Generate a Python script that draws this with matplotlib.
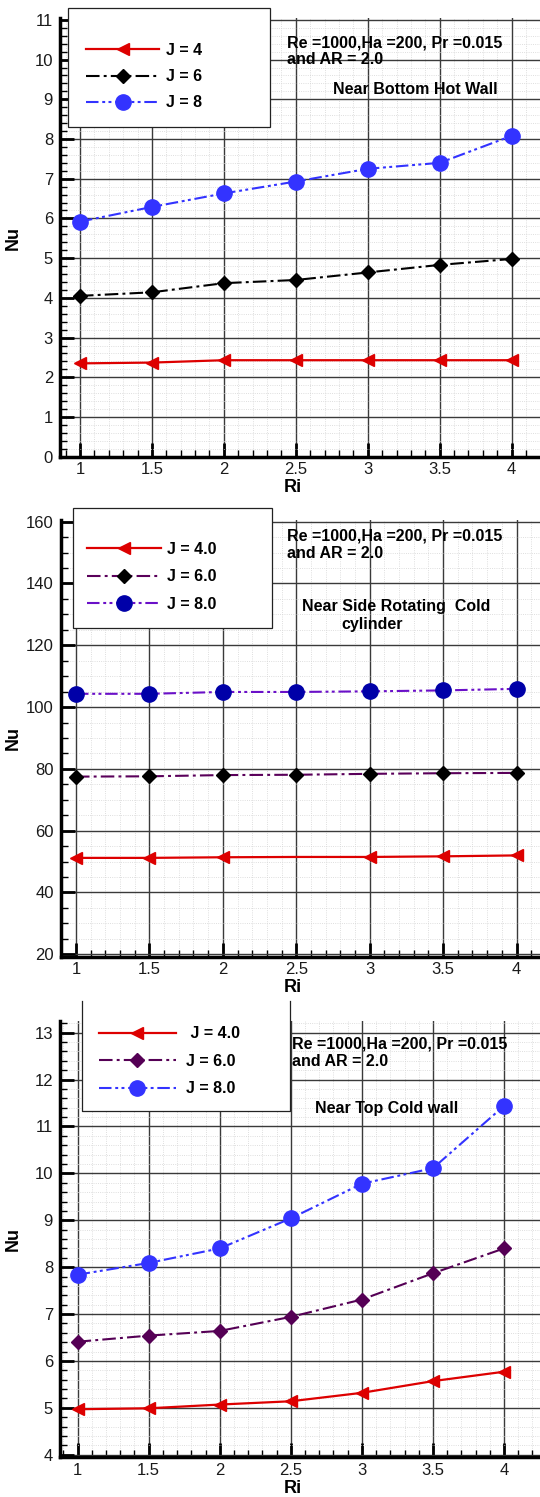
import matplotlib
matplotlib.use('Agg')
import matplotlib.pyplot as plt
from matplotlib.ticker import MultipleLocator
from matplotlib.patches import Rectangle
from matplotlib.lines import Line2D

plt.rcParams['font.family'] = ['Liberation Sans', 'DejaVu Sans']

W, H = 540, 1497

# ---------------- data ----------------
ri = [1.0, 1.5, 2.0, 2.5, 3.0, 3.5, 4.0]

bottom_j4 = [2.35, 2.37, 2.43, 2.43, 2.43, 2.43, 2.43]
bottom_j6 = [4.05, 4.14, 4.37, 4.45, 4.64, 4.83, 4.98]
bottom_j8 = [5.92, 6.29, 6.63, 6.93, 7.25, 7.40, 8.08]
bottom_labels = ['J = 4', 'J = 6', 'J = 8']

side_j4 = [51.2, 51.2, 51.4, 51.5, 51.5, 51.7, 52.0]
side_j6 = [77.5, 77.6, 78.0, 78.1, 78.4, 78.6, 78.7]
side_j8 = [104.3, 104.3, 104.9, 104.9, 105.1, 105.4, 105.9]
side_labels = ['J = 4.0', 'J = 6.0', 'J = 8.0']

top_j4 = [4.97, 4.99, 5.07, 5.14, 5.32, 5.57, 5.77]
top_j6 = [6.41, 6.54, 6.64, 6.94, 7.31, 7.87, 8.40]
top_j8 = [7.84, 8.09, 8.40, 9.04, 9.78, 10.11, 11.44]
top_labels = [' J = 4.0', 'J = 6.0', 'J = 8.0']

params_text = ['Re =1000,Ha =200, Pr =0.015', 'and AR = 2.0']
x_label = 'Ri'
y_label = 'Nu'

# ---------------- helpers ----------------
def fx(px):
    return px / W

def fy(py):
    return 1 - py / H

fig = plt.figure(figsize=(W / 100, H / 100), dpi=100)

DASH6 = (0, (6.5, 2.0, 1.4, 2.0))
DASH8 = (0, (6.0, 1.8, 1.4, 1.6, 1.4, 1.8))
LEG_FS = 11.5
TXT_FS = 11.5


def make_axes(l, t, r, b, xlim, ylim, ymajor, yminor):
    ax = fig.add_axes([fx(l), fy(b), (r - l) / W, (b - t) / H])
    ax.set_xlim(*xlim)
    ax.set_ylim(*ylim)
    ax.xaxis.set_major_locator(MultipleLocator(0.5))
    ax.xaxis.set_minor_locator(MultipleLocator(0.1))
    ax.yaxis.set_major_locator(MultipleLocator(ymajor))
    ax.yaxis.set_minor_locator(MultipleLocator(yminor))
    ax.xaxis.set_major_formatter(plt.FuncFormatter(lambda v, p: ('%g' % v)))
    ax.tick_params(which='major', direction='in', length=10, width=2,
                   labelsize=12, labelcolor='#1a1a1a', top=False, right=False)
    ax.tick_params(which='minor', direction='in', length=5, width=1,
                   top=False, right=False)
    ax.tick_params(axis='x', which='major', pad=4)
    ax.tick_params(axis='y', which='major', pad=5)
    for s in ['top', 'right']:
        ax.spines[s].set_visible(False)
    for s in ['left', 'bottom']:
        ax.spines[s].set_linewidth(2.5)
    ax.grid(which='major', color='#3a3a3a', lw=1.0)
    ax.grid(which='minor', color='#d4d4d4', lw=0.6, ls=':')
    ax.set_axisbelow(True)
    ax.set_xlabel(x_label, fontsize=13, fontweight='bold')
    ax.set_ylabel(y_label, fontsize=13, fontweight='bold')
    h_ax = b - t
    w_ax = r - l
    ax.xaxis.set_label_coords((292.5 - l) / w_ax, -22.5 / h_ax)
    ax.yaxis.set_label_coords((22 - l) / w_ax, 0.5)
    return ax


def legend_box(ax, handles, labels, box, anchor, hl, htp, ls, open_top=False):
    x0, y0, x1, y1 = box
    if open_top:
        rect = Rectangle((fx(x0), fy(y1)), (x1 - x0) / W, (y1 - y0) / H,
                         transform=fig.transFigure, facecolor='white',
                         edgecolor='none', zorder=8, clip_on=False)
        ax.add_artist(rect)
        edge = Line2D([fx(x0), fx(x0), fx(x1), fx(x1)],
                      [fy(y0), fy(y1), fy(y1), fy(y0)],
                      transform=fig.transFigure, color='#222222', lw=0.9,
                      zorder=9, clip_on=False)
        ax.add_artist(edge)
    else:
        rect = Rectangle((fx(x0), fy(y1)), (x1 - x0) / W, (y1 - y0) / H,
                         transform=fig.transFigure, facecolor='white',
                         edgecolor='#222222', lw=0.9, zorder=8, clip_on=False)
        ax.add_artist(rect)
    leg = ax.legend(handles, labels, loc='upper left',
                    bbox_to_anchor=(fx(anchor[0]), fy(anchor[1])),
                    bbox_transform=fig.transFigure, frameon=False,
                    borderpad=0, borderaxespad=0, handlelength=hl,
                    handletextpad=htp, labelspacing=ls, numpoints=1,
                    prop={'weight': 'bold', 'size': LEG_FS})
    leg.set_zorder(10)
    return leg


def annot(lines, positions):
    for txt, (px, py) in zip(lines, positions):
        fig.text(fx(px), fy(py), txt, fontsize=TXT_FS, fontweight='bold',
                 ha='left', va='center', zorder=12)

RED = '#dd0000'

# ---------------- panel 1 ----------------
ax1 = make_axes(60, 18.3, 540, 456.7, (0.861, 4.197), (0, 11.04), 1, 0.2)
l1, = ax1.plot(ri, bottom_j4, color=RED, lw=1.6, marker='<', ms=8.5,
               label=bottom_labels[0])
l2, = ax1.plot(ri, bottom_j6, color='black', lw=1.5, ls=DASH6, marker='D',
               ms=7.2, label=bottom_labels[1])
l3, = ax1.plot(ri, bottom_j8, color='#3333ff', lw=1.5, ls=DASH8, marker='o',
               ms=11, label=bottom_labels[2])
legend_box(ax1, [l1, l2, l3], bottom_labels, (68, 8, 270, 127),
           (86, 43.0), 4.6, 0.42, 0.7)
annot(params_text + ['Near Bottom Hot Wall'],
      [(287, 43), (287, 60), (333, 89)])

# ---------------- panel 2 ----------------
ax2 = make_axes(60.7, 520, 540, 956.7, (0.896, 4.16), (19.22, 160.55), 20, 5)
m1, = ax2.plot(ri, side_j4, color=RED, lw=1.6, marker='<', ms=8.5,
               markevery=[0, 1, 2, 4, 5, 6], label=side_labels[0])
m2, = ax2.plot(ri, side_j6, color='#5a005a', lw=1.5, ls=DASH6, marker='D',
               ms=7.2, mfc='black', mec='black', label=side_labels[1])
m3, = ax2.plot(ri, side_j8, color='#6a10c8', lw=1.5, ls=DASH8, marker='o',
               ms=11, mfc='#0000a8', mec='#0000a8', label=side_labels[2])
legend_box(ax2, [m1, m2, m3], side_labels, (72.7, 508, 272, 628),
           (87, 542), 4.65, 0.38, 0.78)
annot(params_text + ['Near Side Rotating  Cold', 'cylinder'],
      [(287, 536), (287, 553), (302, 607), (341, 625)])

# ---------------- panel 3 ----------------
ax3 = make_axes(60, 1021, 540, 1457.3, (0.876, 4.253), (3.945, 13.25), 1, 0.2)
n1, = ax3.plot(ri, top_j4, color=RED, lw=1.6, marker='<', ms=8.5,
               label=top_labels[0])
n2, = ax3.plot(ri, top_j6, color='#550055', lw=1.5, ls=DASH6, marker='D',
               ms=7.2, label=top_labels[1])
n3, = ax3.plot(ri, top_j8, color='#3333ff', lw=1.5, ls=DASH8, marker='o',
               ms=11, label=top_labels[2])
legend_box(ax3, [n1, n2, n3], top_labels, (81.7, 1001, 290, 1110.7),
           (99, 1026.5), 4.8, 0.65, 0.78, open_top=True)
annot(params_text + ['Near Top Cold wall'],
      [(292, 1044), (292, 1062), (315, 1108)])

fig.savefig('out.png', dpi=100)
